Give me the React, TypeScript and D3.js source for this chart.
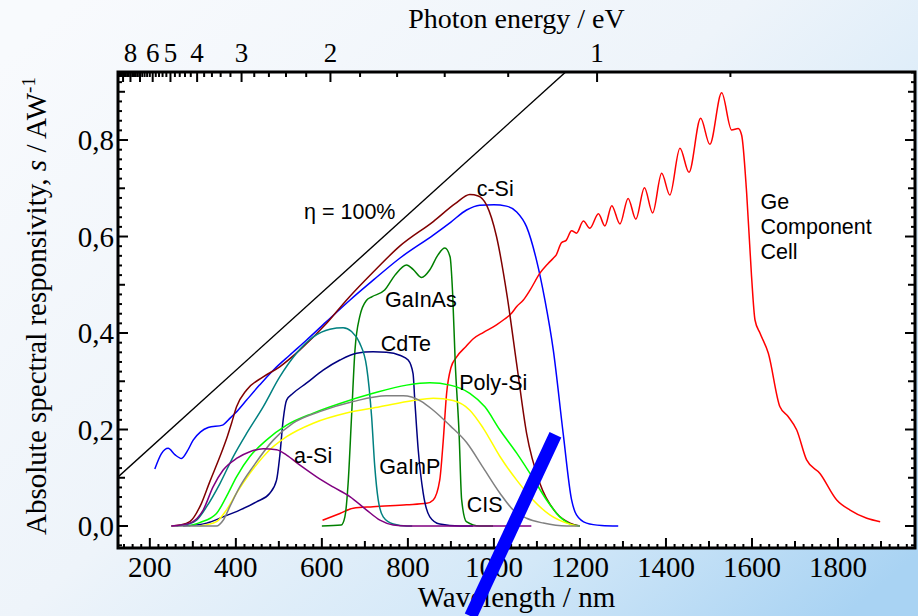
import React from "react";
import * as d3 from "d3";

type P = [number, number];

// Wavelength (nm) vs absolute spectral responsivity (A/W)
const blueSi: P[] = [[211.6,.118],[227,.150],[242.6,.161],[258,.148],[273.7,.140],[287,.155],[300.8,.178],[318,.195],[335.6,.204],[369,.209],[386,.223],[405,.240],[425,.261],[455,.292],[487,.323],[525,.354],[564,.385],[610,.423],[665,.468],[720,.510],[781,.555],[859,.603],[900,.630],[936.5,.655],[967,.665],[1000,.666],[1029,.663],[1053,.651],[1076,.620],[1099,.551],[1118.6,.468],[1138,.365],[1161,.192],[1180.6,.054],[1192,.023],[1215.5,.006],[1250,.001],[1289,0]];
const cSi: P[] = [[250,0],[270,.002],[293,.009],[320,.047],[339.5,.092],[363,.144],[380,.185],[390,.213],[401.6,.247],[425,.282],[463.5,.309],[502,.330],[549,.365],[611,.420],[657,.468],[720,.527],[781,.580],[859,.631],[910,.668],[944,.687],[963.5,.684],[983,.665],[1006,.600],[1031,.475],[1053,.335],[1076,.192],[1107,.088],[1146,.026],[1177,.006],[1200,0]];
const geCell: P[] = [[601.6,.012],[642,.026],[673,.037],[719,.040],[797,.044],[843.5,.047],[859,.054],[874,.095],[882,.175],[890,.275],[900,.328],[913,.350],[935,.372],[952,.388],[975,.401],[1006,.417],[1025,.429],[1041,.441],[1053,.455],[1068,.468],[1084,.489],[1107,.524],[1126,.544],[1138,.555],[1145,.562],[1157,.587],[1168,.592],[1180.6,.612],[1192,.607],[1208,.632],[1223,.617],[1243,.647],[1258,.622],[1274,.664],[1293,.626],[1312,.679],[1330,.636],[1350,.701],[1369,.649],[1390,.731],[1409,.686],[1432.5,.783],[1453.5,.733],[1480.6,.845],[1502,.791],[1529.5,.898],[1552.6,.821],[1568,.824],[1576,.810],[1587.6,.690],[1599,.517],[1607,.427],[1619,.399],[1638,.358],[1665,.247],[1684,.227],[1704,.199],[1727,.137],[1758,.109],[1797,.054],[1828,.033],[1867,.016],[1898,.009]];
const gaInAs: P[] = [[600,0],[645,.002],[653.5,.019],[661,.088],[669,.227],[677,.365],[688,.434],[704,.468],[716,.475],[746,.489],[770,.520],[797,.541],[812,.532],[832,.515],[851,.531],[870,.562],[886,.576],[898,.558],[904,.482],[910,.340],[919,.192],[925,.054],[936,.009],[967,0],[998,0]];
const gaInP: P[] = [[262,0],[290,.004],[308.6,.012],[332,.040],[363,.088],[394,.144],[425,.192],[463.5,.247],[502,.309],[541,.358],[580,.392],[618.6,.408],[649.5,.411],[669,.403],[688,.379],[704,.330],[715.6,.227],[723,.123],[731,.054],[742.6,.019],[766,.004],[797,0],[810,0]];
const cdTe: P[] = [[277.5,0],[332,.006],[370.5,.019],[409,.033],[448,.050],[479,.068],[494.6,.095],[502,.144],[510,.220],[518,.261],[533,.275],[564,.296],[603,.323],[642,.344],[680.7,.358],[719,.361],[750,.360],[781,.354],[800.6,.344],[812,.316],[816,.261],[824,.158],[835.6,.068],[851,.019],[874,.004],[921,0],[951,0]];
const aSi: P[] = [[250,0],[293,.006],[324,.033],[347,.081],[370.5,.116],[401.6,.140],[432.6,.154],[463.5,.160],[494.6,.158],[518,.147],[549,.126],[587.7,.102],[626,.081],[665,.061],[704,.033],[735,.012],[766,.002],[800,0],[1087,0]];
const polySi: P[] = [[290,0],[316,.007],[355,.026],[378,.061],[401.6,.102],[432.6,.144],[471,.178],[518,.209],[580,.234],[642,.254],[719,.275],[797,.292],[851,.297],[898,.292],[944,.275],[979,.247],[1014,.199],[1053,.151],[1091,.099],[1122.5,.054],[1153.5,.019],[1184,.002],[1200,0]];
const yellowCell: P[] = [[316,0],[355,.009],[378,.033],[401.6,.068],[432.6,.109],[471,.151],[518,.185],[580,.213],[657,.234],[735,.247],[812,.260],[859,.265],[905,.260],[944,.240],[975,.203],[1014,.144],[1053,.095],[1091,.054],[1130,.023],[1169,.006],[1192,0]];
const cis: P[] = [[250,0],[355,0],[370.5,.012],[386,.040],[409,.081],[440,.123],[487,.178],[533,.213],[595,.237],[673,.258],[750,.270],[789,.270],[830,.259],[859,.240],[898,.208],[936.5,.173],[975,.121],[1014,.068],[1045,.033],[1076,.016],[1115,.006],[1169,0],[1200,0]];
const idealLine: P[] = [[120,0.0968],[1180,0.9517]];
const blueBar: P[] = [[1143,0.189],[946,-0.187]];

const xTickLabels = [200,400,600,800,1000,1200,1400,1600,1800];
const yTickLabels = [0,0.2,0.4,0.6,0.8];
const energyLabels = [8,6,5,4,3,2,1];

const curveLabels: { text: string; wl: number; s: number }[] = [
  { text: "c-Si", wl: 960, s: 0.683 },
  { text: "\u03b7 = 100%", wl: 558.5, s: 0.636 },
  { text: "GaInAs", wl: 746.8, s: 0.4545 },
  { text: "CdTe", wl: 736.8, s: 0.3633 },
  { text: "Poly-Si", wl: 919.5, s: 0.2819 },
  { text: "a-Si", wl: 535.2, s: 0.1306 },
  { text: "GaInP", wl: 733.5, s: 0.1078 },
  { text: "CIS", wl: 936.7, s: 0.0296 },
  { text: "Ge", wl: 1620, s: 0.658 },
  { text: "Component", wl: 1620, s: 0.606 },
  { text: "Cell", wl: 1620, s: 0.554 },
];

const series: { data: P[]; color: string }[] = [
  { data: blueSi, color: "#0000ff" },
  { data: geCell, color: "#ff0000" },
  { data: cSi, color: "#800000" },
  { data: gaInAs, color: "#008000" },
  { data: cdTe, color: "#000080" },
  { data: gaInP, color: "#008080" },
  { data: polySi, color: "#00ff00" },
  { data: yellowCell, color: "#ffff00" },
  { data: cis, color: "#808080" },
  { data: aSi, color: "#800080" },
];

export default function App() {
  const L = 118, R = 915, T = 72, B = 548;
  const x = d3.scaleLinear().domain([126, 1979]).range([L, R]);
  const y = d3.scaleLinear().domain([-0.0456, 0.941]).range([B, T]);
  const line = d3.line<P>().x(d => x(d[0])).y(d => y(d[1])).curve(d3.curveMonotoneX);
  const straight = d3.line<P>().x(d => x(d[0])).y(d => y(d[1]));

  const xTicks = d3.range(140, 1980, 20);
  const yTicks = d3.range(-40, 942, 20).map(v => v / 1000);
  const eTicks = d3.range(8, 100, 2).map(v => v / 10);
  const eMajor = [1, 2, 3, 4, 5, 6, 7, 8, 9];

  const serif = "'Liberation Serif', 'Times New Roman', serif";
  const sans = "'Liberation Sans', Arial, sans-serif";

  return (
    <svg width={918} height={616} style={{ position: "fixed", left: 0, top: 0, display: "block" }}>
      <defs>
        <linearGradient id="bg" x1="0" y1="0.1" x2="1" y2="0.9">
          <stop offset="0" stopColor="#f8fafd" />
          <stop offset="0.45" stopColor="#eef4fa" />
          <stop offset="0.75" stopColor="#d3e8f8" />
          <stop offset="1" stopColor="#a9d3f3" />
        </linearGradient>
        <clipPath id="plot">
          <rect x={L} y={T} width={R - L} height={B - T} />
        </clipPath>
      </defs>
      <rect x={0} y={0} width={918} height={616} fill="url(#bg)" />
      <rect x={L} y={T} width={R - L} height={B - T} fill="#ffffff" />

      <g clipPath="url(#plot)">
        <path d={straight(idealLine) || ""} fill="none" stroke="#000" strokeWidth={1.4} />
        {series.map((s, i) => (
          <path key={i} d={line(s.data) || ""} fill="none" stroke={s.color} strokeWidth={1.5} />
        ))}
      </g>

      {curveLabels.map((c, i) => (
        <text key={i} x={x(c.wl)} y={y(c.s)} fontFamily={sans} fontSize={21.5} fill="#000">{c.text}</text>
      ))}

      {/* ticks */}
      <g stroke="#000" strokeWidth={2}>
        {xTicks.map(v => {
          const len = v % 200 === 0 ? 10 : v % 100 === 0 ? 7 : 4;
          return <line key={"b" + v} x1={x(v)} x2={x(v)} y1={B} y2={B - len} />;
        })}
        {yTicks.map(v => {
          const k = Math.round(v * 100);
          const len = k % 20 === 0 ? 10 : k % 10 === 0 ? 7 : 4;
          return (
            <g key={"y" + k}>
              <line x1={L} x2={L + len} y1={y(v)} y2={y(v)} />
              <line x1={R} x2={R - len} y1={y(v)} y2={y(v)} />
            </g>
          );
        })}
        {eTicks.map(e => {
          const wl = 1239.84 / e;
          if (wl < 126 || wl > 1979) return null;
          const major = eMajor.some(m => Math.abs(m - e) < 1e-6);
          const len = major ? 10 : 5;
          return <line key={"e" + e} x1={x(wl)} x2={x(wl)} y1={T} y2={T + len} />;
        })}
      </g>
      <rect x={L} y={T} width={R - L} height={B - T} fill="none" stroke="#000" strokeWidth={3} />

      {/* tick labels */}
      {xTickLabels.map(v => (
        <text key={"xl" + v} x={x(v)} y={577} textAnchor="middle" fontFamily={serif} fontSize={29} fill="#000">{v}</text>
      ))}
      {yTickLabels.map(v => (
        <text key={"yl" + v} x={114} y={y(v) + 10} textAnchor="end" fontFamily={serif} fontSize={29} fill="#000">{v.toFixed(1).replace(".", ",")}</text>
      ))}
      {energyLabels.map(e => (
        <text key={"el" + e} x={x(1239.84 / e)} y={62} textAnchor="middle" fontFamily={serif} fontSize={27} fill="#000">{e}</text>
      ))}

      {/* axis titles */}
      <text x={(L + R) / 2} y={607} textAnchor="middle" fontFamily={serif} fontSize={29} fill="#000">Wavelength / nm</text>
      <text x={(L + R) / 2} y={28} textAnchor="middle" fontFamily={serif} fontSize={28} fill="#000">Photon energy / eV</text>
      <text transform={`translate(46,306) rotate(-90)`} textAnchor="middle" fontFamily={serif} fontSize={29} fill="#000">
        Absolute spectral responsivity, <tspan fontStyle="italic">s</tspan> / AW<tspan dy={-11} fontSize={19}>-1</tspan>
      </text>

      {/* annotation bar */}
      <path d={straight(blueBar) || ""} fill="none" stroke="#0000ff" strokeWidth={13} strokeLinecap="butt" />
    </svg>
  );
}
